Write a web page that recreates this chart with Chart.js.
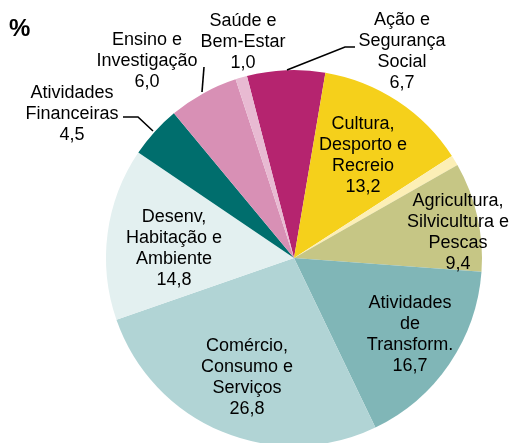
<!DOCTYPE html>
<html>
<head>
<meta charset="utf-8">
<script src="https://cdn.jsdelivr.net/npm/chart.js@4/dist/chart.umd.min.js"></script>
<style>
  html, body { margin: 0; padding: 0; background: #fff; }
  #wrap { width: 512px; height: 443px; position: relative; }
</style>
</head>
<body>
<div id="wrap"><canvas id="pie"></canvas></div>
<script>
// data, clockwise starting from the magenta slice
var categories = [
  'Ação e Segurança Social',
  'Cultura, Desporto e Recreio',
  'Outros',
  'Agricultura, Silvicultura e Pescas',
  'Atividades de Transform.',
  'Comércio, Consumo e Serviços',
  'Desenv, Habitação e Ambiente',
  'Atividades Financeiras',
  'Ensino e Investigação',
  'Saúde e Bem-Estar'
];
var values = [6.7, 13.2, 0.9, 9.4, 16.7, 26.8, 14.8, 4.5, 6.0, 1.0];
var labelLines = [
  ['Ação e', 'Segurança', 'Social'],
  ['Cultura,', 'Desporto e', 'Recreio'],
  null,
  ['Agricultura,', 'Silvicultura e', 'Pescas'],
  ['Atividades', 'de', 'Transform.'],
  ['Comércio,', 'Consumo e', 'Serviços'],
  ['Desenv,', 'Habitação e', 'Ambiente'],
  ['Atividades', 'Financeiras'],
  ['Ensino e', 'Investigação'],
  ['Saúde e', 'Bem-Estar']
];
var colors = [
  '#b5246f', '#f5d01b', '#fcefb6', '#c6c685', '#80b6b7',
  '#b1d4d5', '#e3f0f0', '#006e6d', '#d890b5', '#e8bad2'
];

// label block centres, relative to the pie centre
var labelPos = [
  [108, -206], [69, -102], null, [164, -25], [116, 77],
  [-47, 120], [-120, -9], [-222, -144], [-147, -197], [-51, -216]
];
// leader lines, relative to the pie centre
var leaders = {
  0: [[-7, -188], [51, -211], [61, -211]],
  7: [[-141, -127], [-156, -141], [-171, -141]],
  8: [[-92, -166], [-90, -191]]
};

var labelPlugin = {
  id: 'sliceLabels',
  afterDatasetsDraw: function(chart) {
    var ctx = chart.ctx;
    var arc0 = chart.getDatasetMeta(0).data[0];
    var cx = arc0.x, cy = arc0.y;
    ctx.save();
    ctx.strokeStyle = '#000';
    ctx.lineWidth = 1.6;
    Object.keys(leaders).forEach(function(k) {
      var pts = leaders[k];
      ctx.beginPath();
      ctx.moveTo(cx + pts[0][0], cy + pts[0][1]);
      for (var i = 1; i < pts.length; i++) ctx.lineTo(cx + pts[i][0], cy + pts[i][1]);
      ctx.stroke();
    });
    ctx.fillStyle = '#000';
    ctx.font = '18px "Liberation Sans", Arial, sans-serif';
    ctx.textAlign = 'center';
    ctx.textBaseline = 'middle';
    values.forEach(function(v, i) {
      if (!labelLines[i]) return;
      var lines = labelLines[i].concat([v.toFixed(1).replace('.', ',')]);
      var lh = 21;
      var x = cx + labelPos[i][0];
      var y0 = cy + labelPos[i][1] - (lines.length - 1) * lh / 2;
      lines.forEach(function(t, j) {
        ctx.fillText(t, x, y0 + j * lh);
      });
    });
    ctx.font = 'bold 24px "Liberation Sans", Arial, sans-serif';
    ctx.textAlign = 'left';
    ctx.fillText('%', 9, 29);
    ctx.restore();
  }
};

window.onload = function() {
  new Chart(document.getElementById('pie').getContext('2d'), {
    type: 'pie',
    data: {
      labels: categories,
      datasets: [{
        data: values,
        backgroundColor: colors,
        borderWidth: 0,
        clip: false
      }]
    },
    options: {
      responsive: true,
      maintainAspectRatio: false,
      animation: false,
      rotation: -14.5,
      radius: 188,
      layout: { padding: { left: 76, top: 73, right: 0, bottom: 0 } },
      plugins: {
        legend: { display: false },
        tooltip: { enabled: false }
      }
    },
    plugins: [labelPlugin]
  });
};
</script>
</body>
</html>
